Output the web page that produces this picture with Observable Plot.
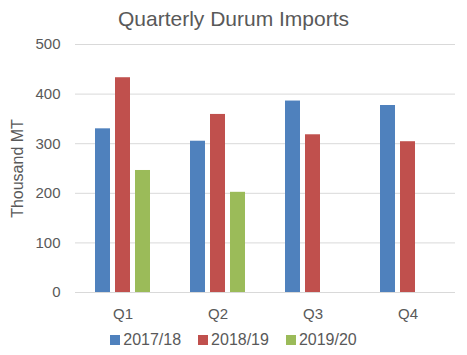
<!DOCTYPE html>
<html>
<head>
<meta charset="utf-8">
<script src="https://cdn.jsdelivr.net/npm/d3@7"></script>
<script src="https://cdn.jsdelivr.net/npm/@observablehq/plot@0.6"></script>
<style>
  body { margin: 0; background: #fff; font-family: "Liberation Sans", Arial, sans-serif; color: #595959; }
  #wrap { position: relative; width: 467px; height: 355px; overflow: hidden; }
  #title { position: absolute; left: 0; top: 0; width: 467px; height: 38px; line-height: 38px; text-align: center; font-size: 21px; color: #595959; z-index: 2; }
  #chart { padding-top: 30px; }
  #chart g[aria-label="y-axis label"] { font-size: 16px; }
  #legend { height: 30px; display: flex; justify-content: center; align-items: center; font-size: 16px; color: #595959; }
  .item { display: flex; align-items: center; margin: 0 8.5px; }
  .sw { width: 10px; height: 10px; margin-right: 3px; }
</style>
</head>
<body>
<div id="wrap">
  <div id="title">Quarterly Durum Imports</div>
  <div id="chart"></div>
  <div id="legend"></div>
</div>
<script>
const quarters = ["Q1", "Q2", "Q3", "Q4"];
const seasons = ["2017/18", "2018/19", "2019/20"];
const v201718 = [330, 305, 386, 377];
const v201819 = [433, 359, 318, 304];
const v201920 = [246, 202, null, null];
const yTicks = [0, 100, 200, 300, 400, 500];
const colors = ["#4F81BD", "#C0504D", "#9BBB59"];

const series = [v201718, v201819, v201920];
const data = [];
quarters.forEach((q, i) => {
  seasons.forEach((s, j) => {
    if (series[j][i] != null) data.push({quarter: q, season: s, value: series[j][i]});
  });
});

const chart = Plot.plot({
  width: 467,
  height: 295,
  marginLeft: 75,
  marginRight: 12,
  marginTop: 14,
  marginBottom: 33,
  style: {fontSize: "15px", color: "#595959", fontFamily: "Liberation Sans, Arial, sans-serif", background: "transparent", overflow: "visible"},
  fx: {domain: quarters, padding: 0, label: null, axis: "bottom", tickSize: 0, tickPadding: 16},
  x: {domain: seasons, paddingInner: 0.238, paddingOuter: 0.881, axis: null},
  y: {domain: [0, 500], ticks: yTicks, tickSize: 0, tickPadding: 15, label: "Thousand MT", labelAnchor: "center", labelOffset: 64, labelArrow: false},
  color: {domain: seasons, range: colors},
  marks: [
    Plot.gridY(yTicks, {stroke: "#D9D9D9", strokeOpacity: 1}),
    Plot.barY(data, {fx: "quarter", x: "season", y: "value", fill: "season"})
  ]
});
document.getElementById("chart").appendChild(chart);

const legend = document.getElementById("legend");
seasons.forEach((s, j) => {
  const it = document.createElement("div");
  it.className = "item";
  const sw = document.createElement("div");
  sw.className = "sw";
  sw.style.background = colors[j];
  const t = document.createElement("span");
  t.textContent = s;
  it.appendChild(sw);
  it.appendChild(t);
  legend.appendChild(it);
});
</script>
</body>
</html>
